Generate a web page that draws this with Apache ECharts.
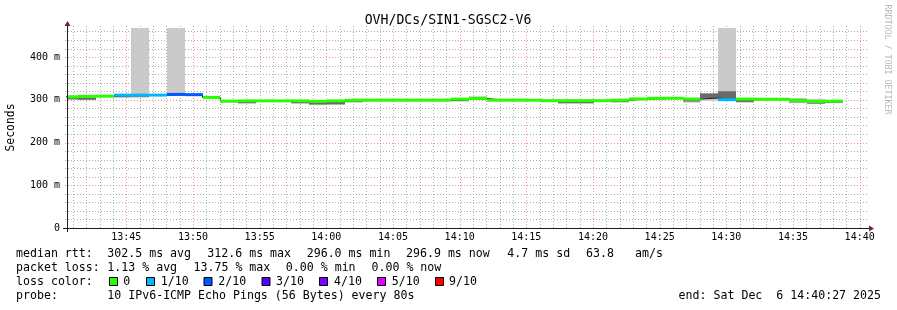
<!DOCTYPE html>
<html>
<head>
<meta charset="utf-8">
<script src="https://cdn.jsdelivr.net/npm/echarts@6/dist/echarts.min.js"></script>
<style>
html,body{margin:0;padding:0;background:#ffffff;overflow:hidden}
#c{width:897px;height:310px}
</style>
</head>
<body>
<div id="c"></div>
<script>
// ---- time window (seconds after 13:40:00) ----
const WIN_START = 33;            // 13:40:33
const WIN_END = 3633;            // 14:40:33
const FIRST_STEP = 3;            // start of first 80 s RRD step
const STEP = 80;
const Y_MAX = 468;               // ms at the top of the plot

// ---- per-step values (ms) ----
const median = [307, 308, 308.5, 311, 311, 311, 312.6, 312, 305.5, 297,
                297.5, 297.5, 297.5, 297.5, 296.3, 297.5, 299, 299, 299, 299,
                299, 299, 301.5, 303, 299, 299, 299, 298, 298, 298,
                298, 299, 302, 303.6, 303.6, 301.8, 304, 300.2, 301.8, 301,
                301, 298.2, 296, 296.9];
const loss = [0, 0, 0, 1, 1, 1, 2, 2, 0, 0,
              0, 0, 0, 0, 0, 0, 0, 0, 0, 0,
              0, 0, 0, 0, 0, 0, 0, 0, 0, 0,
              0, 0, 0, 0, 0, 0, null, 1, 0, 0,
              0, 0, 0, 0];
const smokeLo = [300.5, 300, 306, 304, 305, 309, 309, 310, 303, 293,
                 290, 295, 295, 291, 288, 288, 293, 297, 297, 297,
                 297, 297, 296, 301, 297.5, 297.5, 297.5, 297, 291, 291,
                 296.5, 293, 300, 299, 301, 293, 297.5, 297, 293, 299,
                 299, 292, 290, 292];
const smokeHi = [309.5, 309, 310, 313, 600, 313, 600, 314, 307, 298.5,
                 299, 299, 299, 299, 298, 299, 300, 300, 300, 300,
                 300, 300, 302.5, 308.5, 300, 300, 300, 299.5, 299.5, 299.5,
                 299.5, 300.5, 303.5, 305, 305, 303, 315, 600, 303, 305,
                 305, 304, 302.5, 299];
const coreLo = [301, 300, 307, 306.5, 307, 310, 310, 311, 304, 295,
                292.5, 296, 295.5, 292, 289, 289.5, 295, 298, 298, 298,
                298, 298, 297, 302, 298, 298, 298, 297.5, 292, 292,
                297, 295, 300.5, 301, 302, 296, 304, 301, 295, 300,
                300, 294, 291, 293];
const coreHi = [305.5, 305.5, 309.5, 311, 312, 312, 313.5, 313, 306.5, 297,
                297, 298.5, 298, 297, 295.5, 296.5, 298.5, 299.5, 299.5, 299.5,
                299.5, 299.5, 300, 305, 300, 300, 300, 299, 297, 297,
                299, 299, 303, 304, 304.5, 301, 315, 320, 301, 304,
                304, 302, 298, 298];

// ---- ticks / legend ----
const xTickValues = [300, 600, 900, 1200, 1500, 1800, 2100, 2400, 2700, 3000, 3300, 3600];
const xTickLabels = ['13:45', '13:50', '13:55', '14:00', '14:05', '14:10', '14:15', '14:20', '14:25', '14:30', '14:35', '14:40'];
const yTickValues = [0, 100, 200, 300, 400];
const yTickLabels = ['0', '100 m', '200 m', '300 m', '400 m'];
const lossLevels = [0, 1, 2, 3, 4, 5, 9];
const lossNames = ['0', '1/10', '2/10', '3/10', '4/10', '5/10', '9/10'];
const lossColors = ['#26ff00', '#00b8ff', '#0059ff', '#5e00ff', '#7e00ff', '#dd00ff', '#ff0000'];
const statsRtt = ['median rtt:', '302.5 ms avg', '312.6 ms max', '296.0 ms min', '296.9 ms now', '4.7 ms sd', '63.8', 'am/s'];
const statsLoss = ['packet loss:', '1.13 % avg', '13.75 % max', '0.00 % min', '0.00 % now'];
const probeText = ['probe:', '10 IPv6-ICMP Echo Pings (56 Bytes) every 80s'];
const endText = 'end: Sat Dec  6 14:40:27 2025';
const titleText = 'OVH/DCs/SIN1-SGSC2-V6';

// ---- layout constants ----
const MONO = '"DejaVu Sans Mono", monospace';
const GX = 67, GY = 28, GW = 800, GH = 200;
const COL_GRID = 'rgba(143,143,143,0.75)';
const COL_MGRID = 'rgba(222,79,79,0.6)';
const COL_AXIS = '#1f1f1f';
const COL_ARROW = '#801f1f';
const DASH = [1, 2];

const stepStart = median.map((_, k) => FIRST_STEP + k * STEP);

function lossColor(l) {
  if (l === null || l === undefined) return null;
  let c = null;
  for (let i = 0; i < lossLevels.length; i++) if (l >= lossLevels[i]) c = lossColors[i];
  return c;
}

function clipRect(a, b, cs) {
  const r = {
    x: Math.min(a[0], b[0]), y: Math.min(a[1], b[1]),
    width: Math.abs(b[0] - a[0]), height: Math.abs(b[1] - a[1])
  };
  return echarts.graphic.clipRectByRect(r, {x: cs.x, y: cs.y, width: cs.width, height: cs.height});
}

const smokeData = median.map((_, k) => [stepStart[k], stepStart[k] + STEP, smokeLo[k], smokeHi[k], coreLo[k], coreHi[k]]);
const medianData = median.map((m, k) => [stepStart[k], stepStart[k] + STEP, m, loss[k]]);
const stepLine = median.map((m, k) => [stepStart[k], m]);
stepLine.push([stepStart[median.length - 1] + STEP, median[median.length - 1]]);

const gridV = [];
for (let t = 60; t <= 3600; t += 60) gridV.push([t, t % 300 === 0 ? 1 : 0]);
const gridH = [];
for (let v = 20; v <= 460; v += 20) gridH.push([v, v % 100 === 0 ? 1 : 0]);

const chart = echarts.init(document.getElementById('c'), null, {renderer: 'canvas'});

const graphics = [];
graphics.push({type: 'text', x: 448, y: 20.5, style: {text: titleText, font: '13.2px ' + MONO, fill: '#000', align: 'center', verticalAlign: 'middle'}, silent: true});
graphics.push({type: 'text', x: 11, y: 127.5, rotation: Math.PI / 2, style: {text: 'Seconds', font: '11.4px ' + MONO, fill: '#000', align: 'center', verticalAlign: 'middle'}, silent: true});
graphics.push({type: 'text', x: 887, y: 59.5, rotation: -Math.PI / 2, style: {text: 'RRDTOOL / TOBI OETIKER', font: '8.3px ' + MONO, fill: '#b8b8b8', align: 'center', verticalAlign: 'middle'}, silent: true});
graphics.push({type: 'line', shape: {x1: GX - 4, y1: GY + GH + 0.5, x2: GX + GW + 4, y2: GY + GH + 0.5}, style: {stroke: COL_AXIS, lineWidth: 1}, silent: true, z: 50});
graphics.push({type: 'line', shape: {x1: GX + 0.5, y1: GY + GH + 4, x2: GX + 0.5, y2: GY - 4}, style: {stroke: COL_AXIS, lineWidth: 1}, silent: true, z: 50});
graphics.push({type: 'polygon', shape: {points: [[GX + GW + 2, GY + GH - 2.5], [GX + GW + 2, GY + GH + 3.5], [GX + GW + 7, GY + GH + 0.5]]}, style: {fill: COL_ARROW}, silent: true, z: 51});
graphics.push({type: 'polygon', shape: {points: [[GX - 2.5, GY - 2], [GX + 3.5, GY - 2], [GX + 0.5, GY - 7]]}, style: {fill: COL_ARROW}, silent: true, z: 51});

const LFONT = '11.6px ' + MONO;
const row1X = [16, 107.3, 207.3, 306.7, 406, 507.3, 586, 635];
statsRtt.forEach((s, i) => graphics.push({type: 'text', x: row1X[i], y: 254.3, style: {text: s, font: LFONT, fill: '#000', align: 'left', verticalAlign: 'middle'}, silent: true}));
const row2X = [16, 107.3, 193.5, 285.8, 371.5];
statsLoss.forEach((s, i) => graphics.push({type: 'text', x: row2X[i], y: 268, style: {text: s, font: LFONT, fill: '#000', align: 'left', verticalAlign: 'middle'}, silent: true}));
graphics.push({type: 'text', x: 16, y: 281.8, style: {text: 'loss color:', font: LFONT, fill: '#000', align: 'left', verticalAlign: 'middle'}, silent: true});
const sqX = [109, 146, 203.5, 261.5, 319, 377, 435];
const sqTX = [123.3, 160.7, 218.3, 276, 334, 391.7, 449];
lossNames.forEach((n, i) => {
  graphics.push({type: 'rect', shape: {x: sqX[i] + 0.5, y: 277.5, width: 8, height: 8}, style: {fill: lossColors[i], stroke: '#000', lineWidth: 1}, silent: true});
  graphics.push({type: 'text', x: sqTX[i], y: 281.8, style: {text: n, font: LFONT, fill: '#000', align: 'left', verticalAlign: 'middle'}, silent: true});
});
graphics.push({type: 'text', x: 16, y: 295.5, style: {text: probeText[0], font: LFONT, fill: '#000', align: 'left', verticalAlign: 'middle'}, silent: true});
graphics.push({type: 'text', x: 107.3, y: 295.5, style: {text: probeText[1], font: LFONT, fill: '#000', align: 'left', verticalAlign: 'middle'}, silent: true});
graphics.push({type: 'text', x: 881, y: 295.5, style: {text: endText, font: LFONT, fill: '#000', align: 'right', verticalAlign: 'middle'}, silent: true});

const option = {
  animation: false,
  backgroundColor: '#ffffff',
  grid: {left: GX, top: GY, width: GW, height: GH, containLabel: false, outerBoundsMode: 'none'},
  xAxis: {
    type: 'value', min: WIN_START, max: WIN_END,
    axisLine: {show: false}, axisTick: {show: false}, splitLine: {show: false},
    axisLabel: {
      customValues: xTickValues,
      formatter: v => { const i = xTickValues.indexOf(v); return i >= 0 ? xTickLabels[i] : ''; },
      fontFamily: MONO, fontSize: 10, color: '#000', margin: 4.5
    }
  },
  yAxis: {
    type: 'value', min: 0, max: Y_MAX,
    axisLine: {show: false}, axisTick: {show: false}, splitLine: {show: false},
    axisLabel: {
      customValues: yTickValues,
      formatter: v => { const i = yTickValues.indexOf(v); return i >= 0 ? yTickLabels[i] : ''; },
      fontFamily: MONO, fontSize: 10, color: '#000', margin: 7
    }
  },
  series: [
    {
      type: 'custom', name: 'gridV', silent: true, z: 1,
      data: gridV, encode: {x: 0},
      renderItem: (params, api) => {
        const cs = params.coordSys;
        const x = Math.round(api.coord([api.value(0), 0])[0]) + 0.5;
        return {type: 'line', shape: {x1: x, y1: cs.y - 2, x2: x, y2: cs.y + cs.height + 2},
          style: {stroke: api.value(1) ? COL_MGRID : COL_GRID, lineWidth: 1, lineDash: DASH}};
      }
    },
    {
      type: 'custom', name: 'gridH', silent: true, z: 1,
      data: gridH, encode: {y: 0},
      renderItem: (params, api) => {
        const cs = params.coordSys;
        const y = Math.round(api.coord([WIN_START, api.value(0)])[1]) + 0.5;
        return {type: 'line', shape: {x1: cs.x - 2, y1: y, x2: cs.x + cs.width + 2, y2: y},
          style: {stroke: api.value(1) ? COL_MGRID : COL_GRID, lineWidth: 1, lineDash: DASH}};
      }
    },
    {
      type: 'custom', name: 'smoke', silent: true, z: 2,
      data: smokeData, encode: {x: [0, 1], y: [2, 3]},
      renderItem: (params, api) => {
        const cs = params.coordSys;
        const t0 = api.value(0), t1 = api.value(1);
        const xa = Math.round(api.coord([t0, 0])[0]);
        const xb = Math.round(api.coord([t1, 0])[0]);
        const children = [];
        const o = clipRect([xa, api.coord([t0, api.value(3)])[1]], [xb, api.coord([t1, api.value(2)])[1]], cs);
        if (o && o.width > 0 && o.height > 0) children.push({type: 'rect', shape: o, style: {fill: '#cacaca'}});
        const c = clipRect([xa, api.coord([t0, api.value(5)])[1]], [xb, api.coord([t1, api.value(4)])[1]], cs);
        if (c && c.width > 0 && c.height > 0) children.push({type: 'rect', shape: c, style: {fill: '#6a6a6a'}});
        return {type: 'group', children};
      }
    },
    {
      type: 'line', name: 'medianStep', silent: true, z: 3,
      data: stepLine, step: 'end', symbol: 'none',
      lineStyle: {color: '#202020', width: 1}
    },
    {
      type: 'custom', name: 'median', silent: true, z: 4,
      data: medianData, encode: {x: [0, 1], y: 2},
      renderItem: (params, api) => {
        const cs = params.coordSys;
        const col = lossColor(loss[params.dataIndex]);
        if (!col) return null;
        const t0 = api.value(0), t1 = api.value(1);
        const xa = Math.round(api.coord([t0, 0])[0]);
        const xb = Math.round(api.coord([t1, 0])[0]);
        const y = api.coord([t0, api.value(2)])[1];
        const r = clipRect([xa, y - 1.5], [xb, y + 1.5], cs);
        if (!r || r.width <= 0) return null;
        return {type: 'rect', shape: r, style: {fill: col}};
      }
    }
  ],
  graphic: graphics
};
chart.setOption(option);
</script>
</body>
</html>
